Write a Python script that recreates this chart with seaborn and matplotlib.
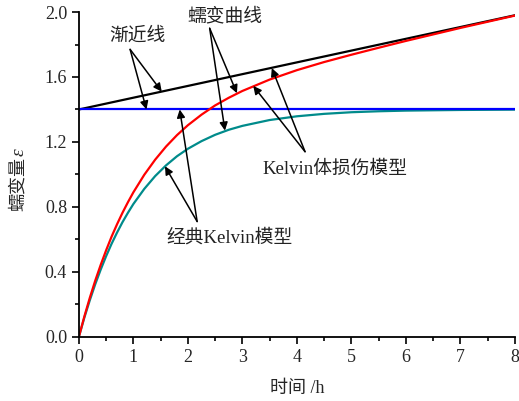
import numpy as np
import pandas as pd
import matplotlib
matplotlib.use("Agg")
import matplotlib.pyplot as plt
import seaborn as sns

# values
t = [0, 0.1, 0.2, 0.3, 0.4, 0.5, 0.6, 0.7, 0.8, 0.9, 1.0, 1.2, 1.4, 1.6, 1.8,
     2.0, 2.25, 2.5, 2.75, 3.0, 3.5, 4.0, 4.5, 5.0, 5.5, 6.0, 6.5, 7.0, 7.5, 8.0]
kelvin_damage = [0, 0.125, 0.240, 0.346, 0.443, 0.533, 0.617, 0.693, 0.764, 0.829,
                 0.890, 0.998, 1.091, 1.172, 1.242, 1.303, 1.368, 1.425, 1.472,
                 1.514, 1.584, 1.642, 1.692, 1.737, 1.780, 1.822, 1.862, 1.902,
                 1.940, 1.978]
kelvin_classic = [0, 0.118, 0.225, 0.324, 0.414, 0.497, 0.573, 0.642, 0.706, 0.764,
                  0.818, 0.911, 0.990, 1.056, 1.112, 1.158, 1.205, 1.244, 1.275,
                  1.299, 1.335, 1.358, 1.373, 1.383, 1.389, 1.393, 1.395, 1.397,
                  1.398, 1.399]
asym_t = [0, 8]
asym_slope = [1.40, 1.98]
asym_flat = [1.40, 1.40]

sns.set_style("ticks")
plt.rcParams['font.family'] = ['Liberation Serif', 'Noto Sans CJK SC']

fig = plt.figure(figsize=(5.19, 4.01), dpi=100)
ax = fig.add_axes([0.152, 0.160, 0.840, 0.810])

sns.lineplot(x=asym_t, y=asym_slope, color='black', lw=1.6, ax=ax)
sns.lineplot(x=t, y=kelvin_classic, color='#008b8b', lw=1.6, ax=ax)
sns.lineplot(x=asym_t, y=asym_flat, color='#0000ff', lw=1.6, ax=ax)
sns.lineplot(x=t, y=kelvin_damage, color='#ff0000', lw=1.6, ax=ax)

ax.set_xlim(0, 8)
ax.set_ylim(0, 2.0)
ax.set_xticks(range(0, 9))
ax.set_yticks([0, 0.4, 0.8, 1.2, 1.6, 2.0])
ax.set_yticklabels(['0.0', '0.4', '0.8', '1.2', '1.6', '2.0'])
ax.set_xticks(np.arange(0.5, 8, 1), minor=True)
ax.set_yticks(np.arange(0.2, 2.0, 0.4), minor=True)
ax.tick_params(which='major', direction='out', length=5, width=1.2, labelsize=13, color='black')
ax.tick_params(which='minor', direction='out', length=3, width=1.2, color='black')
for s in ['left', 'bottom']:
    ax.spines[s].set_linewidth(1.3)
    ax.spines[s].set_color('black')
sns.despine(ax=ax)

ax.set_xlabel('时间 /h', fontsize=13, labelpad=10)
# y label: Chinese part plus italic epsilon
fig.text(18 / 519, 1 - 184 / 401, '蠕变量', rotation=90, fontsize=13,
         ha='center', va='center')
fig.text(19 / 519, 1 - 152 / 401, 'ε', rotation=90, fontsize=14, style='italic',
         ha='center', va='center')

arrow = dict(arrowstyle='-|>', color='black', lw=1.1, mutation_scale=12,
             shrinkA=0, shrinkB=0)
txt = dict(fontsize=13.5, ha='center', va='center', color='#222222')

# 渐近线
ax.text(1.08, 1.85, '渐近线', **txt)
for head in [(1.52, 1.51), (1.24, 1.40)]:
    ax.annotate('', xy=head, xytext=(0.94, 1.77), arrowprops=arrow)

# 蠕变曲线
ax.text(2.68, 1.975, '蠕变曲线', **txt)
for head in [(2.90, 1.50), (2.68, 1.27)]:
    ax.annotate('', xy=head, xytext=(2.40, 1.90), arrowprops=arrow)

# Kelvin体损伤模型
ax.text(4.70, 1.03, 'Kelvin体损伤模型', **txt)
for head in [(3.54, 1.655), (3.20, 1.545)]:
    ax.annotate('', xy=head, xytext=(4.15, 1.14), arrowprops=arrow)

# 经典Kelvin模型
ax.text(2.77, 0.61, '经典Kelvin模型', **txt)
for head in [(1.58, 1.05), (1.85, 1.40)]:
    ax.annotate('', xy=head, xytext=(2.17, 0.71), arrowprops=arrow)

fig.savefig('out.png', dpi=100)
